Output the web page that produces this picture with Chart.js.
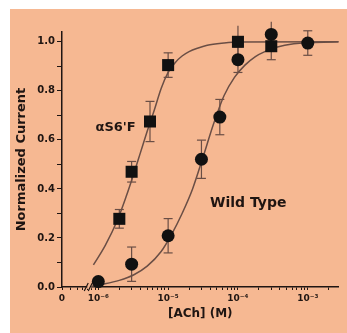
<!DOCTYPE html>
<html>
<head>
<meta charset="utf-8">
<script src="https://cdn.jsdelivr.net/npm/chart.js@4/dist/chart.umd.min.js"></script>
<style>
body { margin: 0; background: #fff; }
#wrap { position: absolute; left: 10px; top: 9px; width: 337px; height: 324px; background: #f6b892; }
</style>
</head>
<body>
<div id="wrap"><canvas id="canvas"></canvas></div>
<script>
// x axis: decade ticks and their labels, "0" sits at the left end
let xTickValues = [1e-6, 1e-5, 1e-4, 1e-3];
let xTickLabels = ['10⁻⁶', '10⁻⁵', '10⁻⁴', '10⁻³'];
let xZeroLabel = '0';
let xMinLog = -6.52;
let xMaxLog = -2.56;

// alpha S6'F mutant (squares)
let mutantConc = [2e-6, 3e-6, 5.5e-6, 1e-5, 1e-4, 3e-4];
let mutantResp = [0.278, 0.47, 0.675, 0.905, 1.0, 0.982];
let mutantErr = [0.038, 0.042, 0.082, 0.05, 0.066, 0.055];

// wild type (circles)
let wildConc = [1e-6, 3e-6, 1e-5, 3e-5, 5.5e-5, 1e-4, 3e-4, 1e-3];
let wildResp = [0.022, 0.093, 0.209, 0.521, 0.693, 0.927, 1.03, 0.995];
let wildErr = [0.012, 0.07, 0.07, 0.078, 0.072, 0.052, 0.052, 0.05];

// fitted curves (log10 concentration, response)
let mutantFitLog = [-6.07, -5.9, -5.73, -5.6, -5.5, -5.4, -5.3, -5.2, -5.1, -5.0, -4.9, -4.8, -4.7, -4.58, -4.44, -4.2, -4.0, -2.56];
let mutantFitResp = [0.09, 0.17, 0.27, 0.37, 0.455, 0.545, 0.635, 0.72, 0.81, 0.875, 0.915, 0.942, 0.96, 0.974, 0.986, 0.995, 0.999, 1.0];
let wildFitLog = [-6.1, -5.92, -5.7, -5.49, -5.3, -5.1, -4.95, -4.8, -4.65, -4.5, -4.35, -4.2, -4.05, -3.9, -3.75, -3.6, -3.45, -3.2, -2.56];
let wildFitResp = [0.003, 0.012, 0.027, 0.05, 0.085, 0.145, 0.215, 0.3, 0.4, 0.53, 0.665, 0.78, 0.855, 0.905, 0.94, 0.962, 0.978, 0.992, 1.0];

let ink = '#1f1512';
let lineCol = '#6a4e45';
let bg = '#f6b892';
let font = 'DejaVu Sans';

function points(xs, ys) {
    return xs.map((x, i) => ({x: x, y: ys[i]}));
}
function fitPoints(logs, ys) {
    return logs.map((l, i) => ({x: Math.pow(10, l), y: ys[i]}));
}
function errorBars(conc, resp, err) {
    let pts = [];
    conc.forEach((c, i) => {
        pts.push({x: c, y: resp[i] - err[i]}, {x: c, y: resp[i] + err[i]}, {x: c, y: null});
    });
    return pts;
}

// decade ticks plus the small 2..9 ticks in between
let xTicks = [Math.pow(10, xMinLog)];
for (let d = -7; d <= -3; d++) {
    for (let m = 1; m <= 9; m++) {
        let v = m * Math.pow(10, d);
        if (Math.log10(v) > xMinLog + 0.05 && Math.log10(v) < xMaxLog) xTicks.push(v);
    }
}

function xLabel(v) {
    if (Math.abs(Math.log10(v) - xMinLog) < 1e-6) return xZeroLabel;
    for (let i = 0; i < xTickValues.length; i++) {
        if (Math.abs(Math.log10(v) - Math.log10(xTickValues[i])) < 1e-6) return xTickLabels[i];
    }
    return '';
}

let notes = {
    id: 'notes',
    afterDraw(chart) {
        let ctx = chart.ctx;
        let x = chart.scales.x, y = chart.scales.y;
        ctx.save();
        ctx.fillStyle = ink;
        ctx.textBaseline = 'middle';
        ctx.textAlign = 'left';
        ctx.font = 'bold 13px "DejaVu Sans"';
        ctx.fillText("αS6'F", x.getPixelForValue(Math.pow(10, -6.04)), y.getPixelForValue(0.649));
        ctx.font = 'bold 14px "DejaVu Sans"';
        ctx.fillText('Wild Type', x.getPixelForValue(Math.pow(10, -4.4)), y.getPixelForValue(0.343));

        // axis break
        let bx = x.getPixelForValue(Math.pow(10, -6.13));
        let by = y.getPixelForValue(0);
        ctx.fillStyle = bg;
        ctx.fillRect(bx - 2, by - 2, 4, 4);
        ctx.strokeStyle = ink;
        ctx.lineWidth = 1.2;
        ctx.beginPath();
        ctx.moveTo(bx - 5, by + 4); ctx.lineTo(bx - 1, by - 4);
        ctx.moveTo(bx - 1, by + 4); ctx.lineTo(bx + 3, by - 4);
        ctx.stroke();
        ctx.restore();
    }
};

new Chart(document.getElementById('canvas'), {
    type: 'line',
    data: {
        datasets: [{
            data: points(mutantConc, mutantResp),
            showLine: false,
            pointStyle: 'rect',
            pointRadius: 8.5,
            pointBackgroundColor: '#111',
            pointBorderWidth: 0,
            order: 0
        }, {
            data: points(wildConc, wildResp),
            showLine: false,
            pointStyle: 'circle',
            pointRadius: 6.5,
            pointBackgroundColor: '#111',
            pointBorderWidth: 0,
            order: 0
        }, {
            data: errorBars(mutantConc, mutantResp, mutantErr),
            borderColor: lineCol,
            borderWidth: 1.2,
            pointStyle: 'line',
            pointRadius: 4.5,
            pointBorderColor: lineCol,
            pointBorderWidth: 1.2,
            spanGaps: false,
            order: 1
        }, {
            data: errorBars(wildConc, wildResp, wildErr),
            borderColor: lineCol,
            borderWidth: 1.2,
            pointStyle: 'line',
            pointRadius: 4.5,
            pointBorderColor: lineCol,
            pointBorderWidth: 1.2,
            spanGaps: false,
            order: 1
        }, {
            data: fitPoints(mutantFitLog, mutantFitResp),
            borderColor: lineCol,
            borderWidth: 1.5,
            pointRadius: 0,
            cubicInterpolationMode: 'monotone',
            order: 2
        }, {
            data: fitPoints(wildFitLog, wildFitResp),
            borderColor: lineCol,
            borderWidth: 1.5,
            pointRadius: 0,
            cubicInterpolationMode: 'monotone',
            order: 2
        }]
    },
    options: {
        responsive: true,
        maintainAspectRatio: false,
        animation: false,
        events: [],
        clip: false,
        layout: {padding: {top: 23, right: 4, left: 0, bottom: 0}},
        plugins: {legend: {display: false}, tooltip: {enabled: false}},
        scales: {
            x: {
                type: 'logarithmic',
                min: Math.pow(10, xMinLog),
                max: Math.pow(10, xMaxLog),
                afterBuildTicks: s => { s.ticks = xTicks.map(v => ({value: v})); },
                afterFit: s => { s.height = 46; },
                ticks: {
                    autoSkip: false, maxRotation: 0, minRotation: 0, padding: 3,
                    color: ink, font: {family: font, size: 9, weight: 'bold'},
                    callback: v => xLabel(v)
                },
                grid: {display: true, drawOnChartArea: false, drawTicks: true, tickLength: 3, tickColor: ink, tickWidth: 1},
                border: {display: true, color: ink, width: 1.5},
                title: {display: true, text: '[ACh] (M)', color: ink, font: {family: font, size: 12, weight: 'bold'}, padding: {top: 0, bottom: 12}}
            },
            y: {
                min: 0,
                max: 1.04,
                afterFit: s => { s.width = 52; },
                ticks: {
                    stepSize: 0.1, includeBounds: false, autoSkip: false, padding: 2,
                    color: ink, font: {family: font, size: 10, weight: 'bold'},
                    callback: v => (Math.round(v * 10) % 2 === 0 ? v.toFixed(1) : '')
                },
                grid: {display: true, drawOnChartArea: false, drawTicks: true, tickLength: 5, tickColor: ink, tickWidth: 1},
                border: {display: true, color: ink, width: 1.5},
                title: {display: true, text: 'Normalized Current', color: ink, font: {family: font, size: 13, weight: 'bold'}, padding: {top: 4, bottom: 0}}
            }
        }
    },
    plugins: [notes]
});
</script>
</body>
</html>
